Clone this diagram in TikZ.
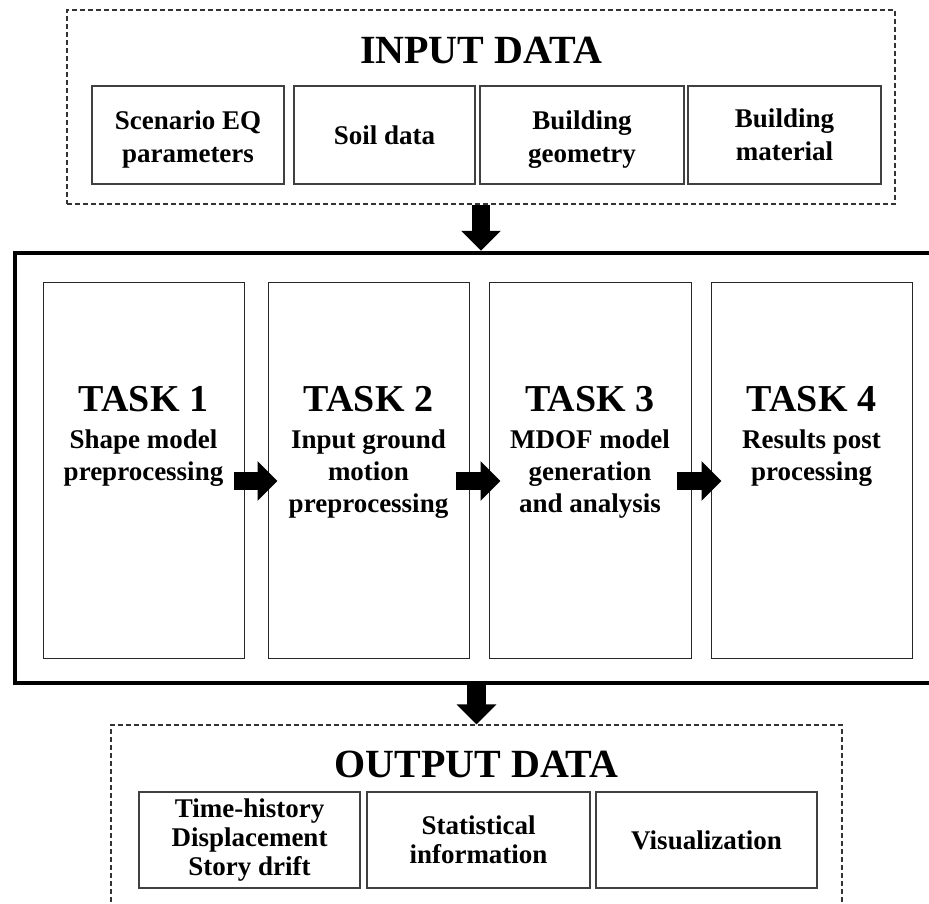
\documentclass[tikz,border=0pt]{standalone}
\usepackage{fontspec}
\setmainfont{Liberation Serif}
\usetikzlibrary{arrows.meta}
\newcommand{\tallstrut}{\rule{0pt}{28pt}}
\newcommand{\tasktitlefont}{\fontsize{38}{38}\selectfont}

\begin{document}
\begin{tikzpicture}[x=1pt, y=-1pt,
        databox/.style={draw=black!75, line width=1.3pt, inner sep=0pt, align=center,
            font=\fontsize{27}{33}\selectfont\bfseries},
        outbox/.style={databox, font=\fontsize{27}{29}\selectfont\bfseries},
        groupbox/.style={draw=black!80, line width=1.2pt, dash pattern=on 5pt off 3pt},
        taskbox/.style={draw=black!85, line width=1pt, minimum width=201pt, minimum height=376pt},
        tasktext/.style={anchor=north, inner sep=0pt, align=center,
            font=\fontsize{27}{32}\selectfont\bfseries},
        heading/.style={anchor=base, inner sep=0pt, font=\fontsize{40}{40}\selectfont\bfseries},
        bigarrow/.style={line width=18.5pt, -{Triangle[length=20pt, width=38.5pt]}}]
    \useasboundingbox (0,0) rectangle (929,903);
    \clip (0,0) rectangle (929,903);

    % input data
    \node[groupbox, minimum width=828pt, minimum height=194pt] (input) at (481,107) {};
    \node[heading] (intitle) at (481,63) {INPUT DATA};
    \node[databox, minimum width=192pt, minimum height=98pt] (eq) at (188,135) {\tallstrut Scenario EQ\\parameters};
    \node[databox, minimum width=181pt, minimum height=98pt] (soil) at (384.5,135) {Soil data};
    \node[databox, minimum width=204pt, minimum height=98pt] (geom) at (582,135) {\tallstrut Building\\geometry};
    \node[databox, minimum width=193pt, minimum height=98pt] (mat) at (784.5,135) {Building\\material};

    % tasks
    \node[draw, line width=4.5pt, minimum width=940pt, minimum height=430pt] (frame) at (485,468) {};
    \node[taskbox] (task1) at (143.5,470) {};
    \node[taskbox] (task2) at (368.5,470) {};
    \node[taskbox, minimum width=202pt] (task3) at (590,470) {};
    \node[taskbox] (task4) at (811.5,470) {};
    \node[tasktext] (t1) at (task1.center |- 0,386) {{\tasktitlefont TASK 1}\\[5pt]Shape model\\preprocessing};
    \node[tasktext] (t2) at (task2.center |- 0,386) {{\tasktitlefont TASK 2}\\[5pt]Input ground\\motion\\preprocessing};
    \node[tasktext] (t3) at (task3.center |- 0,386) {{\tasktitlefont TASK 3}\\[5pt]MDOF model\\generation\\and analysis};
    \node[tasktext] (t4) at (task4.center |- 0,386) {{\tasktitlefont TASK 4}\\[5pt]Results post\\processing};

    % output data
    \node[groupbox, minimum width=731pt, minimum height=230pt] (output) at (476.5,840) {};
    \node[heading] (outtitle) at (476.5,777) {OUTPUT DATA};
    \node[outbox, minimum width=221pt, minimum height=96pt] (hist) at (249.5,840) {Time-history\\Displacement\\Story drift};
    \node[outbox, minimum width=223pt, minimum height=96pt] (stat) at (478.5,840) {Statistical\\information};
    \node[outbox, minimum width=221pt, minimum height=96pt] (vis) at (706.5,840) {Visualization};

    % arrows
    \draw[bigarrow] (input.south) -- (input.south |- frame.north);
    \draw[bigarrow] ([shift={(-11,11)}]task1.east) -- ([shift={(10,11)}]task2.west);
    \draw[bigarrow] ([shift={(-14,11)}]task2.east) -- ([shift={(12,11)}]task3.west);
    \draw[bigarrow] ([shift={(-15,11)}]task3.east) -- ([shift={(11,11)}]task4.west);
    \draw[bigarrow] (output.north |- frame.south) -- (output.north);
\end{tikzpicture}
\end{document}
